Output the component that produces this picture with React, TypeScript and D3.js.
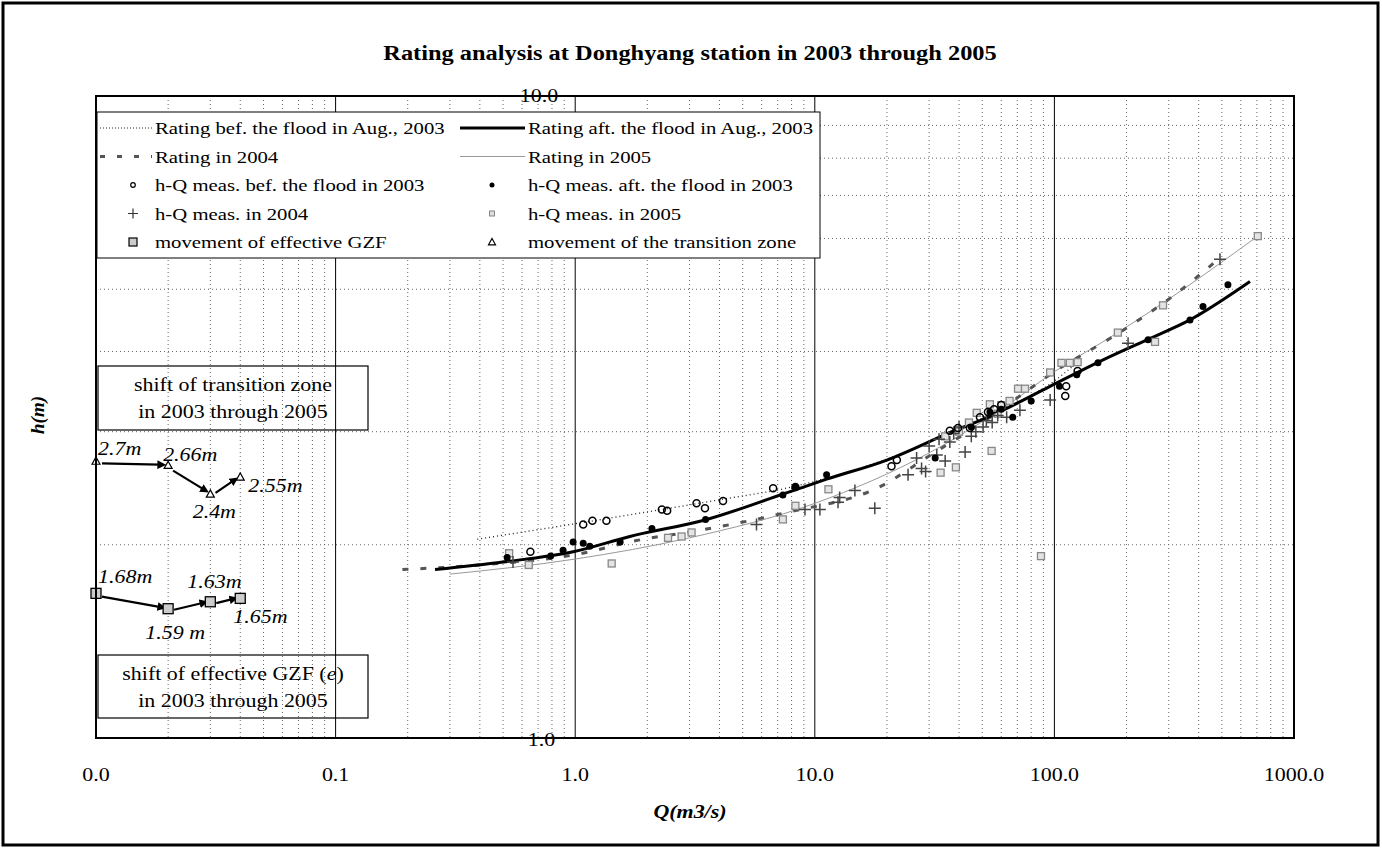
import React from 'react'
import * as d3 from 'd3'

// rating curves (Q in m3/s, h in m)
const befCurveQ = [0.39, 0.95, 2.0, 4.0, 8.0, 20, 50, 100, 125]
const befCurveH = [2.04, 2.15, 2.25, 2.35, 2.46, 2.72, 3.15, 3.6, 3.85]
const aftCurveQ = [0.26, 0.5, 0.98, 1.69, 3.54, 7.4, 11.2, 20, 36.6, 53.8, 95.9, 155, 243, 368, 655]
const aftCurveH = [1.83, 1.88, 1.95, 2.06, 2.19, 2.4, 2.53, 2.71, 2.99, 3.17, 3.53, 3.86, 4.17, 4.48, 5.14]
const r2004Q = [0.19, 0.4, 1.0, 1.8, 3.4, 7.4, 19, 30, 50, 100, 200, 324, 478]
const r2004H = [1.83, 1.86, 1.93, 2.03, 2.11, 2.24, 2.47, 2.75, 3.1, 3.72, 4.35, 4.93, 5.55]
const r2005Q = [0.3, 1.0, 3.0, 10, 30, 60, 100, 182, 289, 706]
const r2005H = [1.8, 1.9, 2.05, 2.32, 2.78, 3.25, 3.72, 4.27, 4.78, 6.05]

// h-Q measurements
const befQ = [0.65, 1.08, 1.18, 1.35, 2.3, 2.42, 3.21, 3.48, 4.14, 6.7, 8.3, 20.9, 22, 36.6, 39.6, 44.4, 48.9, 52.8, 56, 60, 111, 112, 125]
const befH = [1.95, 2.15, 2.18, 2.18, 2.27, 2.26, 2.32, 2.28, 2.34, 2.45, 2.46, 2.65, 2.71, 3.01, 3.04, 3.04, 3.16, 3.22, 3.25, 3.3, 3.41, 3.53, 3.73]
const aftQ = [0.52, 0.79, 0.89, 0.98, 1.08, 1.15, 1.54, 2.09, 3.5, 7.36, 8.3, 11.2, 31.8, 45, 53.8, 60, 67, 80, 105, 124, 152, 246, 368, 417, 530]
const aftH = [1.91, 1.92, 1.96, 2.02, 2.01, 1.99, 2.02, 2.12, 2.19, 2.39, 2.46, 2.57, 2.73, 3.05, 3.22, 3.25, 3.16, 3.35, 3.53, 3.68, 3.84, 4.17, 4.48, 4.7, 5.08]
const m2004Q = [0.55, 5.71, 9.1, 10.5, 12.5, 12.7, 14.7, 17.8, 24.5, 26.6, 27.9, 29, 30, 32.3, 33, 35, 36.6, 38, 40, 42.4, 45, 47, 50.4, 52, 55, 58, 63.2, 71.8, 96, 203, 491]
const m2004H = [1.88, 2.15, 2.27, 2.27, 2.33, 2.37, 2.43, 2.28, 2.57, 2.73, 2.63, 2.6, 2.85, 2.76, 2.92, 2.7, 2.89, 2.98, 3.05, 2.79, 2.95, 3.0, 3.05, 3.12, 3.1, 3.18, 3.16, 3.24, 3.36, 4.12, 5.57]
const m2005Q = [0.53, 0.64, 1.42, 2.44, 2.78, 3.06, 7.36, 8.3, 11.4, 33.5, 35, 38.8, 40, 44, 47.4, 53.8, 54.7, 58, 60, 65, 70.5, 75.4, 87.9, 96, 107, 116, 125, 184, 263, 284, 706]
const m2005H = [1.94, 1.86, 1.87, 2.05, 2.06, 2.09, 2.19, 2.3, 2.44, 2.59, 2.95, 2.64, 3.0, 3.1, 3.21, 3.31, 2.8, 3.2, 3.3, 3.35, 3.5, 3.5, 1.92, 3.71, 3.84, 3.84, 3.85, 4.28, 4.14, 4.72, 6.05]

// shift of transition zone and effective GZF, plotted at Q = 0.01..0.04
const shiftQ = [0.01, 0.02, 0.03, 0.04]
const transH = [2.7, 2.66, 2.4, 2.55]
const transLabels = ['2.7m', '2.66m', '2.4m', '2.55m']
const gzfH = [1.68, 1.59, 1.63, 1.65]
const gzfLabels = ['1.68m', '1.59 m', '1.63m', '1.65m']

const xTicks = [0.01, 0.1, 1, 10, 100, 1000]
const xTickLabels = ['0.0', '0.1', '1.0', '10.0', '100.0', '1000.0']

const FONT = '"Liberation Serif", "Times New Roman", serif'
const SX = 1.22 // the original's lettering is wide

// label offsets relative to point (dx, dy, anchor)
const transLabelPos = [[2, -6, 'start'], [-5, -4, 'start'], [4, 24, 'middle'], [8, 15, 'start']]
const gzfLabelPos = [[2, -10, 'start'], [7, 30, 'middle'], [-23, -14, 'start'], [-7, 25, 'start']]

const T = ({ x, y, anchor = 'start', size = 19, children, ...rest }: any) => (
  <text transform={`translate(${x},${y}) scale(${SX},1)`} textAnchor={anchor} fontSize={size} {...rest}>{children}</text>
)

export default function App() {
  const W = 1382, H = 848
  const left = 96, right = 1294, top = 96, bottom = 738
  const x = d3.scaleLog().domain([0.01, 1000]).range([left, right])
  const y = d3.scaleLog().domain([1, 10]).range([bottom, top])

  const line = d3.line<[number, number]>()
    .x(d => x(d[0])).y(d => y(d[1]))
    .curve(d3.curveMonotoneX)
  const zip = (a: number[], b: number[]) => a.map((v, i) => [v, b[i]] as [number, number])

  const minorX: number[] = []
  for (let d = -2; d < 3; d++) for (let k = 2; k <= 9; k++) minorX.push(k * Math.pow(10, d))
  const minorY = [2, 3, 4, 5, 6, 7, 8, 9]

  const plus = (cx: number, cy: number, s: number) => `M${cx - s},${cy}H${cx + s}M${cx},${cy - s}V${cy + s}`
  const tri = (cx: number, cy: number, s: number) => `M${cx},${cy - s}L${cx + s},${cy + s * 0.8}L${cx - s},${cy + s * 0.8}Z`

  const arrows = (hs: number[]) => shiftQ.slice(0, -1).map((q, i) => {
    const x1 = x(q), y1 = y(hs[i]), x2 = x(shiftQ[i + 1]), y2 = y(hs[i + 1])
    const L = Math.hypot(x2 - x1, y2 - y1)
    const ux = (x2 - x1) / L, uy = (y2 - y1) / L
    return { x1: x1 + ux * 6, y1: y1 + uy * 6 + 2, x2: x2 - ux * 9, y2: y2 - uy * 9 }
  })

  const legendRows = [
    ['lineBef', 'Rating bef. the flood in Aug., 2003', 'lineAft', 'Rating aft. the flood in Aug., 2003'],
    ['line2004', 'Rating in 2004', 'line2005', 'Rating in 2005'],
    ['ptBef', 'h-Q meas. bef. the flood in 2003', 'ptAft', 'h-Q meas. aft. the flood in 2003'],
    ['pt2004', 'h-Q meas. in 2004', 'pt2005', 'h-Q meas. in 2005'],
    ['gzf', 'movement of effective GZF', 'trans', 'movement of the transition zone'],
  ]

  const sample = (kind: string, lx1: number, lx2: number, mx: number, yy: number) => {
    switch (kind) {
      case 'lineBef': return <line x1={lx1} x2={lx2} y1={yy} y2={yy} stroke="#222" strokeWidth={1} strokeDasharray="1,2" />
      case 'lineAft': return <line x1={lx1} x2={lx2} y1={yy} y2={yy} stroke="#000" strokeWidth={3} />
      case 'line2004': return <line x1={lx1} x2={lx2} y1={yy} y2={yy} stroke="#555" strokeWidth={3} strokeDasharray="5,12" />
      case 'line2005': return <line x1={lx1} x2={lx2} y1={yy} y2={yy} stroke="#999" strokeWidth={1} />
      case 'ptBef': return <circle cx={mx} cy={yy} r={2.3} fill="#fff" stroke="#000" strokeWidth={1.2} />
      case 'ptAft': return <circle cx={mx} cy={yy} r={2.5} fill="#000" />
      case 'pt2004': return <path d={plus(mx, yy, 5)} stroke="#333" strokeWidth={1.2} />
      case 'pt2005': return <rect x={mx - 2.5} y={yy - 2.5} width={5} height={5} fill="#ddd" stroke="#888" strokeWidth={1} />
      case 'gzf': return <rect x={mx - 4} y={yy - 4} width={8} height={8} fill="#ccc" stroke="#000" strokeWidth={1.2} />
      case 'trans': return <path d={tri(mx, yy, 3.5)} fill="#fff" stroke="#000" strokeWidth={1.2} />
    }
    return null
  }

  const legTop = 112, legBottom = 258
  const rowY = (i: number) => legTop + 16 + i * 28.5

  return (
    <svg width={W} height={H} style={{ display: 'block', position: 'absolute', left: 0, top: 0 }} fontFamily={FONT}>
      <defs>
        <marker id="ah" viewBox="0 0 10 10" refX="2" refY="5" markerWidth="4" markerHeight="4" orient="auto">
          <path d="M0,0L10,5L0,10Z" fill="#000" />
        </marker>
      </defs>
      <rect x={0} y={0} width={W} height={H} fill="#fff" />
      <rect x={3} y={3} width={1375} height={842} fill="none" stroke="#000" strokeWidth={3} />

      <T x={690} y={60} anchor="middle" size={20} fontWeight="bold">Rating analysis at Donghyang station in 2003 through 2005</T>

      {/* grid */}
      {minorX.map((q, i) => (
        <line key={'mx' + i} x1={x(q)} x2={x(q)} y1={top} y2={bottom} stroke="#666" strokeWidth={1} strokeDasharray="1,3" />
      ))}
      {minorY.map((h, i) => (
        <line key={'my' + i} x1={left} x2={right} y1={y(h)} y2={y(h)} stroke="#666" strokeWidth={1} strokeDasharray="1,3" />
      ))}
      {[0.1, 1, 10, 100].map((q, i) => (
        <line key={'Mx' + i} x1={x(q)} x2={x(q)} y1={top} y2={bottom} stroke="#000" strokeWidth={1} />
      ))}

      {/* rating curves */}
      <path d={line(zip(r2005Q, r2005H)) || ''} fill="none" stroke="#999" strokeWidth={1} />
      <path d={line(zip(befCurveQ, befCurveH)) || ''} fill="none" stroke="#222" strokeWidth={1.3} strokeDasharray="1,3" />
      <path d={line(zip(r2004Q, r2004H)) || ''} fill="none" stroke="#555" strokeWidth={3} strokeDasharray="6,12" />
      <path d={line(zip(aftCurveQ, aftCurveH)) || ''} fill="none" stroke="#000" strokeWidth={3} />

      {/* measurements */}
      {m2005Q.map((q, i) => (
        <rect key={'s5' + i} x={x(q) - 3.5} y={y(m2005H[i]) - 3.5} width={7} height={7} fill="#e4e4e4" stroke="#888" strokeWidth={1.3} />
      ))}
      {m2004Q.map((q, i) => (
        <path key={'p4' + i} d={plus(x(q), y(m2004H[i]), 6)} stroke="#444" strokeWidth={1.5} />
      ))}
      {befQ.map((q, i) => (
        <circle key={'cb' + i} cx={x(q)} cy={y(befH[i])} r={3.5} fill="none" stroke="#000" strokeWidth={1.5} />
      ))}
      {aftQ.map((q, i) => (
        <circle key={'ca' + i} cx={x(q)} cy={y(aftH[i])} r={3.5} fill="#000" />
      ))}

      {/* legend */}
      <rect x={97} y={legTop} width={723} height={legBottom - legTop} fill="#fff" stroke="#000" strokeWidth={1} />
      {legendRows.map((r, i) => (
        <g key={'lg' + i}>
          {sample(r[0], 100, 152, 133, rowY(i))}
          <T x={155} y={rowY(i) + 6} size={17}>{r[1]}</T>
          {sample(r[2], 460, 525, 492, rowY(i))}
          <T x={528} y={rowY(i) + 6} size={17}>{r[3]}</T>
        </g>
      ))}

      {/* annotation boxes */}
      <rect x={98} y={366} width={270} height={64} fill="none" stroke="#000" strokeWidth={1.2} />
      <T x={233} y={391} anchor="middle" size={18}>shift of transition zone</T>
      <T x={233} y={418} anchor="middle" size={18}>in 2003 through 2005</T>
      <rect x={98} y={655} width={270} height={63} fill="none" stroke="#000" strokeWidth={1.2} />
      <T x={233} y={680} anchor="middle" size={18}>shift of effective GZF (<tspan fontStyle="italic">e</tspan>)</T>
      <T x={233} y={707} anchor="middle" size={18}>in 2003 through 2005</T>

      {/* shift arrows */}
      {[...arrows(transH), ...arrows(gzfH)].map((a, i) => (
        <line key={'ar' + i} x1={a.x1} y1={a.y1} x2={a.x2} y2={a.y2} stroke="#000" strokeWidth={2.2} markerEnd="url(#ah)" />
      ))}
      {shiftQ.map((q, i) => (
        <path key={'tr' + i} d={tri(x(q), y(transH[i]), 4)} fill="#fff" stroke="#000" strokeWidth={1.2} />
      ))}
      {shiftQ.map((q, i) => (
        <rect key={'gz' + i} x={x(q) - 5} y={y(gzfH[i]) - 5} width={10} height={10} fill="#ccc" stroke="#000" strokeWidth={1.3} />
      ))}
      {transLabels.map((t, i) => (
        <T key={'tl' + i} x={x(shiftQ[i]) + (transLabelPos[i][0] as number)} y={y(transH[i]) + (transLabelPos[i][1] as number)}
          anchor={transLabelPos[i][2]} size={18} fontStyle="italic">{t}</T>
      ))}
      {gzfLabels.map((t, i) => (
        <T key={'gl' + i} x={x(shiftQ[i]) + (gzfLabelPos[i][0] as number)} y={y(gzfH[i]) + (gzfLabelPos[i][1] as number)}
          anchor={gzfLabelPos[i][2]} size={18} fontStyle="italic">{t}</T>
      ))}

      {/* plot border */}
      <rect x={left} y={top} width={right - left} height={bottom - top} fill="none" stroke="#000" strokeWidth={2} />

      {/* y labels at Q = 1 */}
      <T x={x(1) - 17} y={y(10) + 6} anchor="end" size={18}>10.0</T>
      <T x={x(1) - 20} y={y(1) + 8} anchor="end" size={18}>1.0</T>

      {/* x ticks */}
      {xTicks.map((q, i) => (
        <T key={'xt' + i} x={x(q)} y={781} anchor="middle" size={18}>{xTickLabels[i]}</T>
      ))}
      <T x={690} y={818} anchor="middle" size={18} fontWeight="bold" fontStyle="italic">Q(m3/s)</T>
      <text transform="translate(44,415) rotate(-90)" textAnchor="middle" fontSize={19} fontWeight="bold" fontStyle="italic">h(m)</text>
    </svg>
  )
}
